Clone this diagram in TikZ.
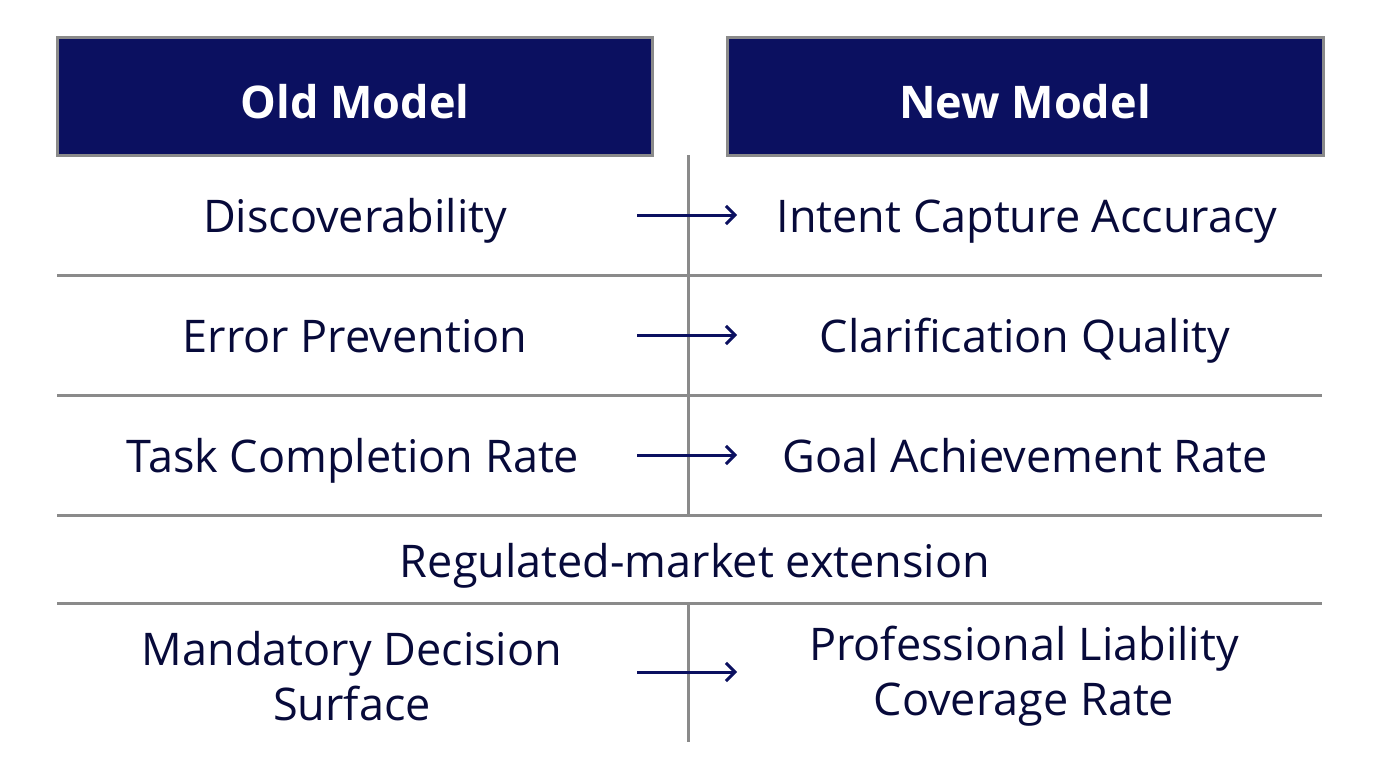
\documentclass[tikz,border=0pt]{standalone}
\usepackage{fontspec}
\setmainfont{Open Sans}
\usetikzlibrary{positioning,arrows.meta}
\definecolor{navy}{HTML}{0B1060}
\definecolor{rule}{HTML}{8A8A8A}
\begin{document}
\begin{tikzpicture}[x = 1pt, y = -1pt]
% styles
\tikzset{headbox/.style={fill=navy,draw=rule,line width=3pt},
         headtext/.style={text=white,anchor=base,font=\fontsize{45}{50}\selectfont\bfseries},
         celltext/.style={text=navy!60!black,anchor=base,font=\fontsize{45}{55}\selectfont,align=center},
         maparrow/.style={draw=navy,line width=3pt,-{Straight Barb[length=9pt,width=18pt]}},
         sep/.style={draw=rule,line width=3pt}}
% frame
\useasboundingbox (0,0) rectangle (1376,768);
% headers
\draw[headbox] (57,38) rectangle (652,155);
\draw[headbox] (727,38) rectangle (1323,155);
\node[headtext] (old) at (355,118) {Old Model};
\node[headtext] (new) at (1025,118) {New Model};
% rules
\draw[sep] (688,155) -- (688,515);
\draw[sep] (688,603) -- (688,742);
\foreach \y in {275,395,515,603}
  \draw[sep] (57,\y) -- (1322,\y);
% rows
\node[celltext] (o1) at (355,232) {Discoverability};
\node[celltext] (n1) at (1027,232) {Intent Capture Accuracy};
\node[celltext] (o2) at (355,352) {Error Prevention};
\node[celltext] (n2) at (1025,352) {Clarification Quality};
\node[celltext] (o3) at (353,472) {Task Completion Rate};
\node[celltext] (n3) at (1025,472) {Goal Achievement Rate};
\node[celltext] (reg) at (695,577) {Regulated-market extension};
\node[celltext,anchor=center] (o4) at (352,676) {Mandatory Decision\\Surface};
\node[celltext,anchor=center] (n4) at (1024,676) {Professional Liability\\Coverage Rate};
% arrows
\foreach \y in {215,335,455,672}
  \draw[maparrow] (637,\y) -- (737,\y);
\end{tikzpicture}
\end{document}
